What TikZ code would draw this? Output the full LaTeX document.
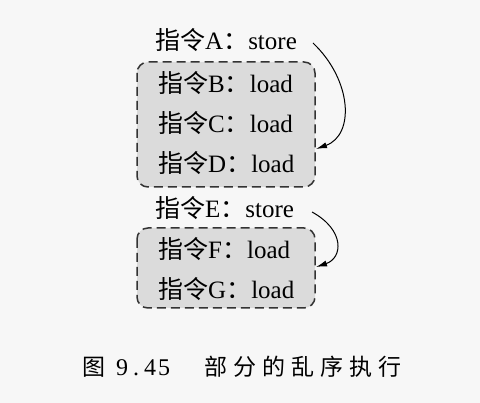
\documentclass[tikz,border=0pt]{standalone}
\usepackage{fontspec}
\setmainfont{Liberation Serif}
\newfontfamily\cjk{Noto Sans CJK SC}
\usetikzlibrary{arrows.meta}
\tikzset{
  lbl/.style={inner sep=0pt, font=\fontsize{25}{27}\selectfont},
  grp/.style={draw=black!80, fill=black!14, dash pattern=on 9pt off 5pt, line width=1.5pt, rounded corners=11pt},
  dep/.style={line width=1pt, -{Latex[length=11pt,width=6pt]}},
}
\newcommand{\instr}[2]{{\cjk 指令}#1{\cjk ：}#2}
\newcommand{\capcell}[2][29pt]{\makebox[#1]{#2}}
\begin{document}
\begin{tikzpicture}[x=1pt,y=-1pt]
\fill[black!3] (0,0) rectangle (480,403);
\useasboundingbox (0,0) rectangle (480,403);
\draw[grp] (137,62) rectangle (315,187);
\draw[grp] (137,228) rectangle (315,308);
\node[lbl, anchor=west] (A) at (155,40) {\instr{A}{store}};
\node[lbl, anchor=west] (B) at (158,83) {\instr{B}{load}};
\node[lbl, anchor=west] (C) at (158,123) {\instr{C}{load}};
\node[lbl, anchor=west] (D) at (158,163) {\instr{D}{load}};
\node[lbl, anchor=west] (E) at (155,208) {\instr{E}{store}};
\node[lbl, anchor=west] (F) at (158,249) {\instr{F}{load}};
\node[lbl, anchor=west] (G) at (158,289) {\instr{G}{load}};
\coordinate (a1) at (313,43);
\coordinate (d1) at (316,149);
\coordinate (e1) at (312,212);
\coordinate (f1) at (316,267);
\draw[dep] (a1) .. controls (352,80) and (355,135) .. (d1);
\draw[dep] (e1) .. controls (345,230) and (343,258) .. (f1);
\node[inner sep=0pt, anchor=west] (cap) at (79,367) {\fontsize{23}{24}\selectfont
  \capcell{\cjk 图}\hspace{7pt}{\fontsize{24}{24}\selectfont\capcell[14pt]{9}\capcell[14pt]{.}\capcell[14pt]{4}\capcell[14pt]{5}}\hspace{30.5pt}%
  \capcell{\cjk 部}\capcell{\cjk 分}\capcell{\cjk 的}\capcell{\cjk 乱}\capcell{\cjk 序}\capcell{\cjk 执}\capcell{\cjk 行}};
\end{tikzpicture}
\end{document}
